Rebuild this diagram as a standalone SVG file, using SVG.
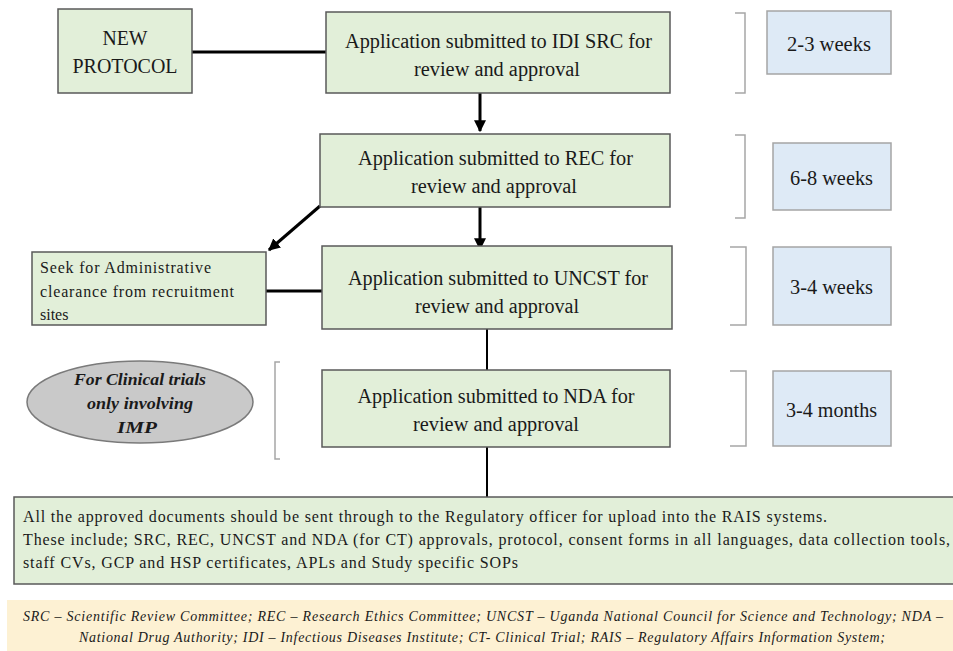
<svg xmlns="http://www.w3.org/2000/svg" width="953" height="651" viewBox="0 0 953 651">
<style>
.g{fill:#e2efd9;stroke:#595959;stroke-width:1.5}
.b{fill:#deeaf6;stroke:#a5a5a5;stroke-width:1.5}
.br{fill:none;stroke:#a6a6a6;stroke-width:1.5}
text{font-family:'Liberation Serif','Times New Roman','DejaVu Serif',serif;fill:#1a1a1a}
.m{font-size:20px;text-anchor:middle}
.s{font-size:16px}
.e{font-size:17px;font-weight:bold;font-style:italic;text-anchor:middle}
.c{stroke:#000;stroke-width:3;fill:none}
.c2{stroke:#000;stroke-width:2;fill:none}
</style>
<defs>
<marker id="ah" viewBox="0 0 10 10" refX="9" refY="5" markerWidth="4" markerHeight="4" orient="auto" markerUnits="strokeWidth">
<path d="M0,0 L10,5 L0,10 z" fill="#000"/>
</marker>
</defs>
<rect width="953" height="651" fill="#fff"/>
<g id="connectors">
<line class="c" x1="192" y1="52" x2="326" y2="52"/>
<line class="c" x1="480" y1="93" x2="480" y2="131" marker-end="url(#ah)"/>
<line class="c" x1="480" y1="207" x2="480" y2="249" marker-end="url(#ah)"/>
<line class="c" x1="320" y1="206" x2="269" y2="250" marker-end="url(#ah)"/>
<line class="c" x1="266" y1="291" x2="322" y2="291"/>
<line class="c2" x1="487" y1="329" x2="487" y2="370"/>
<line class="c2" x1="487" y1="447" x2="487" y2="497"/>
</g>
<g id="new-protocol">
<rect class="g" x="58" y="9" width="134" height="84"/>
<text class="m" x="125" y="45" textLength="45" lengthAdjust="spacingAndGlyphs">NEW</text>
<text class="m" x="125" y="73" textLength="105" lengthAdjust="spacingAndGlyphs">PROTOCOL</text>
</g>
<g id="idi-src">
<rect class="g" x="326" y="12" width="344" height="81"/>
<text class="m" x="498.5" y="48" textLength="307" lengthAdjust="spacingAndGlyphs">Application submitted to IDI SRC for</text>
<text class="m" x="497" y="76" textLength="166" lengthAdjust="spacingAndGlyphs">review and approval</text>
</g>
<g id="rec">
<rect class="g" x="320" y="134" width="350" height="73"/>
<text class="m" x="495.5" y="165" textLength="275" lengthAdjust="spacingAndGlyphs">Application submitted to REC for</text>
<text class="m" x="494" y="193" textLength="166" lengthAdjust="spacingAndGlyphs">review and approval</text>
</g>
<g id="seek">
<rect class="g" x="32" y="252" width="234" height="73"/>
<text class="s" x="40" y="273" textLength="171" lengthAdjust="spacing">Seek for Administrative</text>
<text class="s" x="40" y="297" textLength="194" lengthAdjust="spacing">clearance from recruitment</text>
<text class="s" x="40" y="320">sites</text>
</g>
<g id="uncst">
<rect class="g" x="322" y="246" width="350" height="83"/>
<text class="m" x="498" y="285" textLength="300" lengthAdjust="spacingAndGlyphs">Application submitted to UNCST for</text>
<text class="m" x="497" y="313" textLength="164" lengthAdjust="spacingAndGlyphs">review and approval</text>
</g>
<g id="ct-note">
<ellipse cx="140" cy="402" rx="113" ry="41" fill="#c9c9c9" stroke="#7a7a7a" stroke-width="1.5"/>
<text class="e" x="140" y="385" textLength="132" lengthAdjust="spacingAndGlyphs">For Clinical trials</text>
<text class="e" x="140" y="409" textLength="106" lengthAdjust="spacingAndGlyphs">only involving</text>
<text class="e" x="137" y="433" textLength="40" lengthAdjust="spacingAndGlyphs">IMP</text>
</g>
<g id="nda">
<rect class="g" x="322" y="370" width="348" height="77"/>
<text class="m" x="496" y="403" textLength="277" lengthAdjust="spacingAndGlyphs">Application submitted to NDA for</text>
<text class="m" x="496" y="431" textLength="166" lengthAdjust="spacingAndGlyphs">review and approval</text>
</g>
<g id="brackets">
<path class="br" d="M735,13 H745 V93 H735"/>
<path class="br" d="M735,135 H745 V218 H735"/>
<path class="br" d="M730,247 H746 V325 H730"/>
<path class="br" d="M730,371 H746 V446 H730"/>
<path class="br" d="M280,362 H275 V459 H280"/>
</g>
<g id="t1">
<rect class="b" x="767" y="11" width="124" height="63"/>
<text class="m" x="829" y="51" textLength="84" lengthAdjust="spacingAndGlyphs">2-3 weeks</text>
</g>
<g id="t2">
<rect class="b" x="773" y="143" width="118" height="67"/>
<text class="m" x="831.5" y="185" textLength="83" lengthAdjust="spacingAndGlyphs">6-8 weeks</text>
</g>
<g id="t3">
<rect class="b" x="773" y="247" width="118" height="78"/>
<text class="m" x="831.5" y="294" textLength="83" lengthAdjust="spacingAndGlyphs">3-4 weeks</text>
</g>
<g id="t4">
<rect class="b" x="773" y="371" width="118" height="75"/>
<text class="m" x="831.5" y="417" textLength="91" lengthAdjust="spacingAndGlyphs">3-4 months</text>
</g>
<g id="final">
<rect class="g" x="14" y="497" width="945" height="87"/>
<text class="s" x="23" y="522" textLength="804" lengthAdjust="spacing">All the approved documents should be sent through to the Regulatory officer for upload into the RAIS systems.</text>
<text class="s" x="23" y="545" textLength="927" lengthAdjust="spacing">These include; SRC, REC, UNCST and NDA (for CT) approvals, protocol, consent forms in all languages, data collection tools,</text>
<text class="s" x="23" y="568" textLength="495" lengthAdjust="spacing">staff CVs, GCP and HSP certificates, APLs and Study specific SOPs</text>
</g>
<g id="legend">
<rect x="7" y="600" width="946" height="51" fill="#fdf1d3"/>
<text x="23" y="621" font-size="14" font-style="italic" textLength="920" lengthAdjust="spacing">SRC – Scientific Review Committee; REC – Research Ethics Committee; UNCST – Uganda National Council for Science and Technology; NDA –</text>
<text x="79" y="642" font-size="14" font-style="italic" textLength="806" lengthAdjust="spacing">National Drug Authority; IDI – Infectious Diseases Institute; CT- Clinical Trial; RAIS – Regulatory Affairs Information System;</text>
</g>
</svg>
